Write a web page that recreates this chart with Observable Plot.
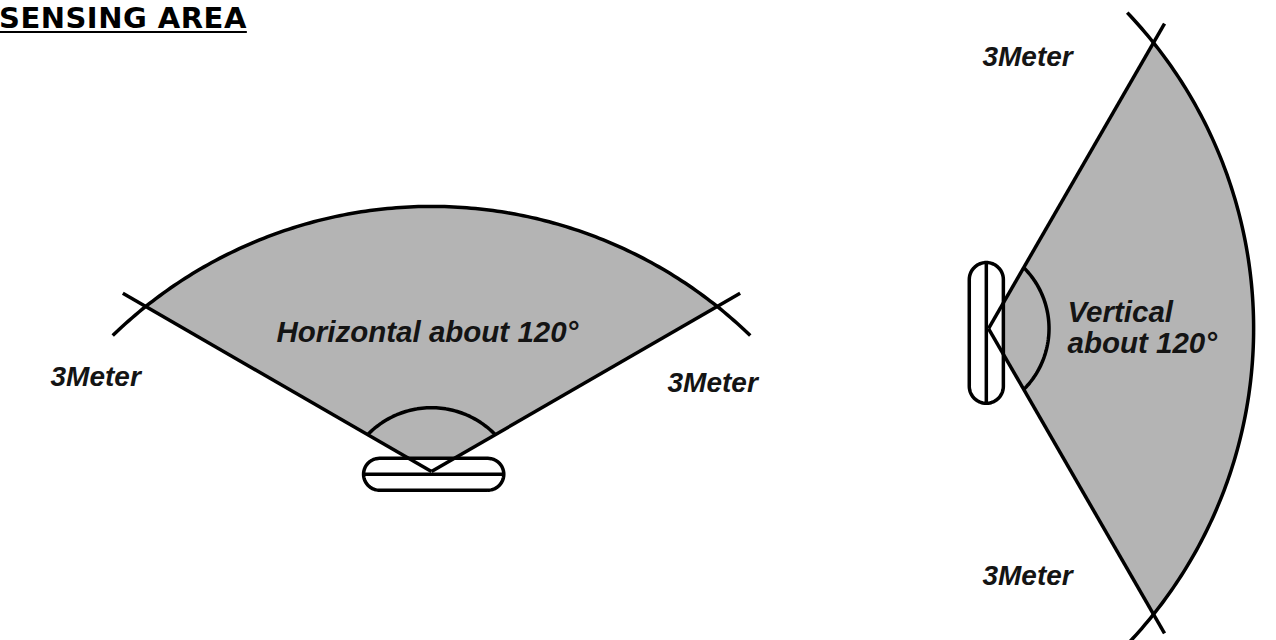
<!DOCTYPE html>
<html>
<head>
<meta charset="utf-8">
<script src="https://cdn.jsdelivr.net/npm/d3@7"></script>
<script src="https://cdn.jsdelivr.net/npm/@observablehq/plot@0.6"></script>
<style>
  html, body { margin: 0; padding: 0; background: #ffffff; }
  #wrap { position: relative; width: 1276px; height: 640px; overflow: hidden; }
  #title {
    position: absolute; left: -1px; top: 4px; margin: 0;
    font-family: "DejaVu Sans", Verdana, sans-serif; font-weight: bold;
    font-size: 29px; line-height: 1; letter-spacing: 0.5px; color: #000;
    text-decoration: underline; text-decoration-thickness: 2px; text-underline-offset: 3px;
    z-index: 2;
  }
  #chart { position: absolute; left: 0; top: 0; }
</style>
</head>
<body>
<div id="wrap">
  <div id="title">SENSING AREA</div>
  <div id="chart"></div>
</div>
<script>
// ---- data (metres; y grows downward on the page) ----
const sensorName     = ["Horizontal", "Vertical"];
const sensorX        = [3.918, 8.982];   // detection apex
const sensorY        = [4.282, 2.982];
const facingDeg      = [90, 0];          // direction the sensor looks
const spreadDeg      = [120, 120];       // detection angle
const rangeM         = [3, 3];           // detection range
const arcReachM      = [2.41, 2.41];     // reach of the outer boundary on the axis
const innerRadiusM   = [0.67, 0.64];     // angle marker
const innerReachM    = [0.58, 0.55];
const sideExtM       = [0.24, 0.2];
const arcExtDeg      = [5.5, 5];
const housingLengthM = [1.275, 1.28];
const housingWidthM  = [0.29, 0.31];
const housingAlongM  = [-0.025, -0.02];
const housingSideM   = [0.02, 0.04];

const angleText  = ["Horizontal about 120°", "Vertical\nabout 120°"];
const angleX     = [2.509, 9.70];
const angleY     = [3.109, 3.209];
const rangeText  = ["3Meter", "3Meter", "3Meter", "3Meter"];
const rangeX     = [0.455, 6.064, 8.927, 8.927];
const rangeY     = [3.500, 3.555, 0.591, 5.318];

const PX_PER_M = 110;
const W = 1276, H = 640;
const rad = d => d * Math.PI / 180;

function frame(i) {
  const th = rad(facingDeg[i]);
  const u = [Math.cos(th), -Math.sin(th)];
  const v = [Math.sin(th), Math.cos(th)];
  return (a, b) => ({x: sensorX[i] + a * u[0] + b * v[0], y: sensorY[i] + a * u[1] + b * v[1]});
}
function arcLocal(d, h, R, extDeg, from, to, n) {
  const a = d * Math.cos(h), b = d * Math.sin(h);
  const c = (R * R - d * d) / (2 * (R - a));
  const r = R - c;
  const phi = Math.atan2(b, a - c);
  const ext = rad(extDeg);
  const s0 = from * (phi + ext), s1 = to * (phi + ext);
  const pts = [];
  for (let k = 0; k <= n; k++) {
    const s = s0 + (s1 - s0) * k / n;
    pts.push([c + r * Math.cos(s), r * Math.sin(s)]);
  }
  return pts;
}

const fills = [], sides = [], outerArcs = [], innerArcs = [], housings = [], midlines = [];
sensorName.forEach((name, i) => {
  const T = frame(i);
  const h = rad(spreadDeg[i] / 2);
  const wedge = [[0, 0], ...arcLocal(rangeM[i], h, arcReachM[i], 0, -1, 1, 120), [0, 0]];
  wedge.forEach(([a, b]) => fills.push({id: name, ...T(a, b)}));
  [-1, 1].forEach(sg => {
    const L = rangeM[i] + sideExtM[i];
    sides.push({id: name + sg, ...T(0, 0)});
    sides.push({id: name + sg, ...T(L * Math.cos(h), sg * L * Math.sin(h))});
  });
  arcLocal(rangeM[i], h, arcReachM[i], arcExtDeg[i], -1, 1, 160)
    .forEach(([a, b]) => outerArcs.push({id: name, ...T(a, b)}));
  arcLocal(innerRadiusM[i], h, innerReachM[i], 0, -1, 1, 60)
    .forEach(([a, b]) => innerArcs.push({id: name, ...T(a, b)}));
  const ca = housingAlongM[i], cb = housingSideM[i];
  const hw = housingWidthM[i] / 2, hl = housingLengthM[i] / 2;
  const e1 = cb + hl - hw, e2 = cb - hl + hw;
  const hp = [];
  for (let k = 0; k <= 30; k++) { const t = rad(-90 + 180 * k / 30); hp.push([ca + hw * Math.sin(t), e1 + hw * Math.cos(t)]); }
  for (let k = 0; k <= 30; k++) { const t = rad(-90 + 180 * k / 30); hp.push([ca - hw * Math.sin(t), e2 - hw * Math.cos(t)]); }
  hp.push(hp[0]);
  hp.forEach(([a, b]) => housings.push({id: name, ...T(a, b)}));
  midlines.push({id: name, ...T(ca, cb - hl)}, {id: name, ...T(ca, cb + hl)});
});

const angleLabels = angleText.map((t, i) => ({text: t, x: angleX[i], y: angleY[i]}));
const rangeLabels = rangeText.map((t, i) => ({text: t, x: rangeX[i], y: rangeY[i]}));

const stroke = {stroke: "#000", strokeWidth: 3.5, strokeLinecap: "butt", strokeLinejoin: "round"};
const font = {
  x: "x", y: "y", text: "text", textAnchor: "start", lineAnchor: "bottom", lineHeight: 1.07,
  fontFamily: "'Liberation Sans', Arial, sans-serif", fontWeight: "bold", fontStyle: "italic", fill: "#141414"
};
const chart = Plot.plot({
  width: W, height: H,
  marginTop: 0, marginRight: 0, marginBottom: 0, marginLeft: 0,
  x: {domain: [0, W / PX_PER_M], range: [0, W], axis: null},
  y: {domain: [0, H / PX_PER_M], range: [0, H], axis: null},
  style: {background: "transparent"},
  marks: [
    Plot.line(fills, {x: "x", y: "y", z: "id", fill: "#b4b4b4", stroke: "none"}),
    Plot.line(housings, {x: "x", y: "y", z: "id", fill: "#ffffff", ...stroke}),
    Plot.line(midlines, {x: "x", y: "y", z: "id", ...stroke}),
    Plot.line(sides, {x: "x", y: "y", z: "id", ...stroke}),
    Plot.line(outerArcs, {x: "x", y: "y", z: "id", ...stroke}),
    Plot.line(innerArcs, {x: "x", y: "y", z: "id", ...stroke}),
    Plot.text(angleLabels, {...font, fontSize: 29.5}),
    Plot.text(rangeLabels, {...font, fontSize: 28})
  ]
});
document.getElementById("chart").appendChild(chart);
</script>
</body>
</html>
